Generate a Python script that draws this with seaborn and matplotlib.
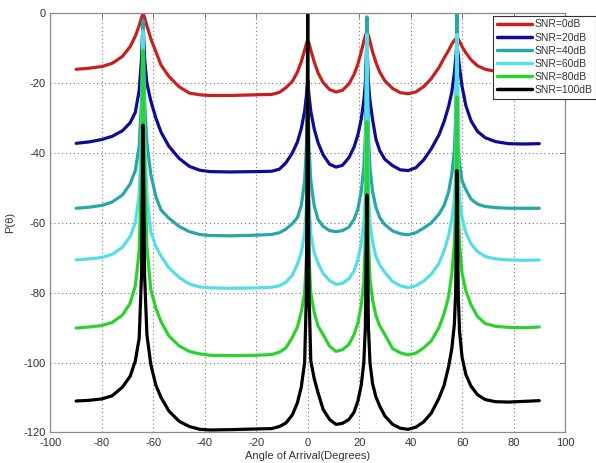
import matplotlib
matplotlib.use("Agg")
import matplotlib.pyplot as plt
import numpy as np
import pandas as pd
import seaborn as sns

# Angle grid (degrees), denser around the four source directions
angles = [
    -90, -85, -80, -76, -72, -69, -67, -65.5, -64.6, -64, -63.4, -62.5, -61, -59, -57,
    -54, -50, -46, -42, -38, -30, -20, -14, -11, -8.5,
    -6, -4, -2.5, -1.2, -0.5, 0, 0.5, 1.2, 2.5, 4, 6, 8.5,
    11, 13.5, 16, 18, 19.5, 20.8, 21.8, 22.4, 23, 23.6, 24.2, 25.2, 26.5, 28,
    30, 33, 36, 39, 42, 45, 48, 51, 53, 54.8, 56,
    57, 57.5, 58, 58.5, 59, 60, 61.5, 63.5, 66, 69, 73, 78, 84, 90,
]

# MUSIC pseudo-spectrum P(theta) in dB for each SNR
snr_0 = [
    -16.0, -15.7, -15.2, -14.3, -12.3, -9.5, -6.5, -3.5, -1.2, 0, -1.2, -3.5, -7.2, -11, -14.8,
    -18, -21, -22.8, -23.3, -23.5, -23.5, -23.3, -23.2, -22.6, -21.3,
    -19.5, -16.8, -13.8, -10.5, -8.6, -7.7, -8.6, -10.5, -13.8, -17, -19.8, -21.8,
    -22.5, -22, -20.2, -17.5, -14.5, -11, -8, -6.3, -5.3, -6.3, -8, -11, -14, -16.8,
    -19.3, -21.5, -22.7, -23, -22.5, -21, -18.7, -15.5, -12.8, -10.5, -8.8,
    -7.7, -7.3, -7.0, -7.3, -8, -9.5, -11.3, -13.3, -15, -16, -16.6, -16.9, -17, -17,
]
snr_20 = [
    -37.2, -36.8, -36.1, -35.2, -33.6, -31.3, -28.3, -22, -13, -2, -13, -20, -25, -30, -34,
    -38, -41.5, -43.8, -44.9, -45.3, -45.4, -45.3, -45.2, -44.6, -42.8,
    -40, -36.8, -33, -28, -23.5, -19, -23.5, -28, -33, -37, -40.5, -43.2,
    -44, -43.5, -41.3, -38.3, -34.8, -30.3, -25, -20, -8, -20, -25, -30.3, -36, -39.3,
    -41.8, -43.6, -44.8, -45, -44.2, -42, -38.8, -34.8, -31, -26.5, -22.5,
    -17, -13, -9, -12, -15.5, -21, -26.5, -30.8, -33.8, -35.6, -36.7, -37.3, -37.4, -37.3,
]
snr_40 = [
    -55.8, -55.5, -55, -54, -52, -48.8, -45, -38, -25, -2, -25, -37, -46, -52.5, -56.3,
    -58.6, -61, -62.5, -63.3, -63.6, -63.7, -63.5, -63.3, -62.8, -61.8,
    -60.2, -58.5, -55, -48, -38, -20, -38, -48, -55, -59, -61, -62.2,
    -62.5, -62.2, -61.2, -59, -56, -51, -44, -35, -1, -35, -44, -51, -55.5, -58.5,
    -60.5, -62.3, -63.1, -63.4, -62.8, -61.5, -60, -57.5, -55, -51, -46,
    -39, -30, 0, -37, -43, -48, -50.5, -53.2, -54.6, -55.3, -55.6, -55.8, -55.8, -55.8,
]
snr_60 = [
    -70.6, -70.3, -69.9, -69, -67, -63.9, -60, -52, -35, -5, -35, -52, -62.5, -66.8, -69.5,
    -72.8, -75.6, -77.5, -78.3, -78.6, -78.7, -78.6, -78.4, -78, -77,
    -75, -71.8, -68.5, -63, -55, -35, -55, -63, -68.5, -71.5, -74.5, -76.5,
    -77.6, -77.3, -76, -73.8, -70.5, -66, -60, -52, -6, -52, -60, -65.5, -69.5, -72,
    -74.2, -76.8, -78, -78.5, -78, -76.7, -74.7, -71.6, -68, -63.5, -59,
    -53, -45, -6, -45, -53, -58.5, -62.8, -66, -68.2, -69.6, -70.3, -70.6, -70.7, -70.6,
]
snr_80 = [
    -90.1, -89.8, -89.4, -88.5, -86.4, -83, -78, -68, -45, -10.5, -45, -67, -79, -84.5, -88.3,
    -92.3, -95.2, -96.8, -97.5, -97.9, -98, -97.9, -97.7, -97, -95.8,
    -92.8, -89.8, -85.5, -80, -70, -45, -70, -80, -85.5, -89.5, -92, -95.3,
    -96.8, -96.3, -94.8, -92, -88.7, -83.5, -77, -65, -31, -65, -76, -82, -86.5, -89.5,
    -92, -96, -97.2, -97.8, -97.3, -95.8, -93.8, -90, -86, -81, -74.5,
    -66, -55, -24, -55, -66, -74.5, -79.5, -83.5, -86.8, -88.8, -89.6, -89.9, -90, -89.8,
]
snr_100 = [
    -111, -110.8, -110.4, -109.5, -107, -103.9, -99.5, -93, -75, -32, -75, -92, -100.5, -106.5, -110,
    -113.8, -116.8, -118.3, -119.1, -119.3, -119.2, -119, -118.9, -118.3, -117.3,
    -115, -111.5, -107, -100, -80, 0, -80, -99.5, -104.5, -108.6, -113.4, -116.3,
    -117.7, -117.4, -116.3, -114.2, -111, -106.5, -100, -90, -52, -90, -100, -106, -109.8, -112.5,
    -115.3, -117.7, -118.8, -119.1, -118.5, -117, -114.5, -110.2, -106.5, -101, -96,
    -89, -80, -45, -80, -91, -98.5, -103.5, -106.8, -109.2, -110.6, -111.2, -111.3, -111.1, -110.9,
]

labels = ["SNR=0dB", "SNR=20dB", "SNR=40dB", "SNR=60dB", "SNR=80dB", "SNR=100dB"]
series = [snr_0, snr_20, snr_40, snr_60, snr_80, snr_100]
colors = ["#c8201e", "#0c0c96", "#27a8a6", "#55dde8", "#2bd22b", "#000000"]

x_ticks = [-100, -80, -60, -40, -20, 0, 20, 40, 60, 80, 100]
y_ticks = [-120, -100, -80, -60, -40, -20, 0]

df = pd.concat(
    [pd.DataFrame({"angle": angles, "P": vals, "SNR": lab}) for lab, vals in zip(labels, series)],
    ignore_index=True,
)

sns.set_style("white")
plt.rcParams["font.family"] = ["Liberation Sans", "DejaVu Sans"]
plt.rcParams["axes.unicode_minus"] = False

fig, ax = plt.subplots(figsize=(5.96, 4.63), dpi=100)
fig.subplots_adjust(left=0.0846, right=0.948, bottom=0.066, top=0.971)

sns.lineplot(
    data=df, x="angle", y="P", hue="SNR", hue_order=labels,
    palette=dict(zip(labels, colors)), estimator=None, sort=False,
    linewidth=2.3, ax=ax,
)

ax.set_xlim(-100, 100)
ax.set_ylim(-120, 0)
ax.set_xticks(x_ticks)
ax.set_yticks(y_ticks)
ax.tick_params(direction="in", length=3.5, width=0.7, colors="#777777",
               labelcolor="#333333", labelsize=8, top=True, right=True)
ax.tick_params(axis="x", pad=4)
ax.grid(True, linestyle=(0, (1, 2.5)), color="#777777", linewidth=0.8)
ax.set_axisbelow(True)
for sp in ax.spines.values():
    sp.set_color("#8a8a8a")
    sp.set_linewidth(0.9)

ax.set_xlabel("Angle of Arrival(Degrees)", fontsize=8, color="#333333", labelpad=2)
ax.set_ylabel("P(\u03b8)", fontsize=8, color="#333333", labelpad=6)

handles, labs = ax.get_legend_handles_labels()
leg = ax.legend(
    handles, labs, loc="upper left", bbox_to_anchor=(0.828, 0.966),
    bbox_transform=fig.transFigure, fontsize=7.5, frameon=True, fancybox=False,
    edgecolor="#333333", framealpha=1, borderpad=0.35, labelspacing=0.3,
    handlelength=3.3, handletextpad=0.3, borderaxespad=0,
)
leg.get_frame().set_linewidth(0.8)
for line in leg.get_lines():
    line.set_linewidth(2.5)
for t in leg.get_texts():
    t.set_color("#333333")

fig.savefig("out.png", dpi=100)
